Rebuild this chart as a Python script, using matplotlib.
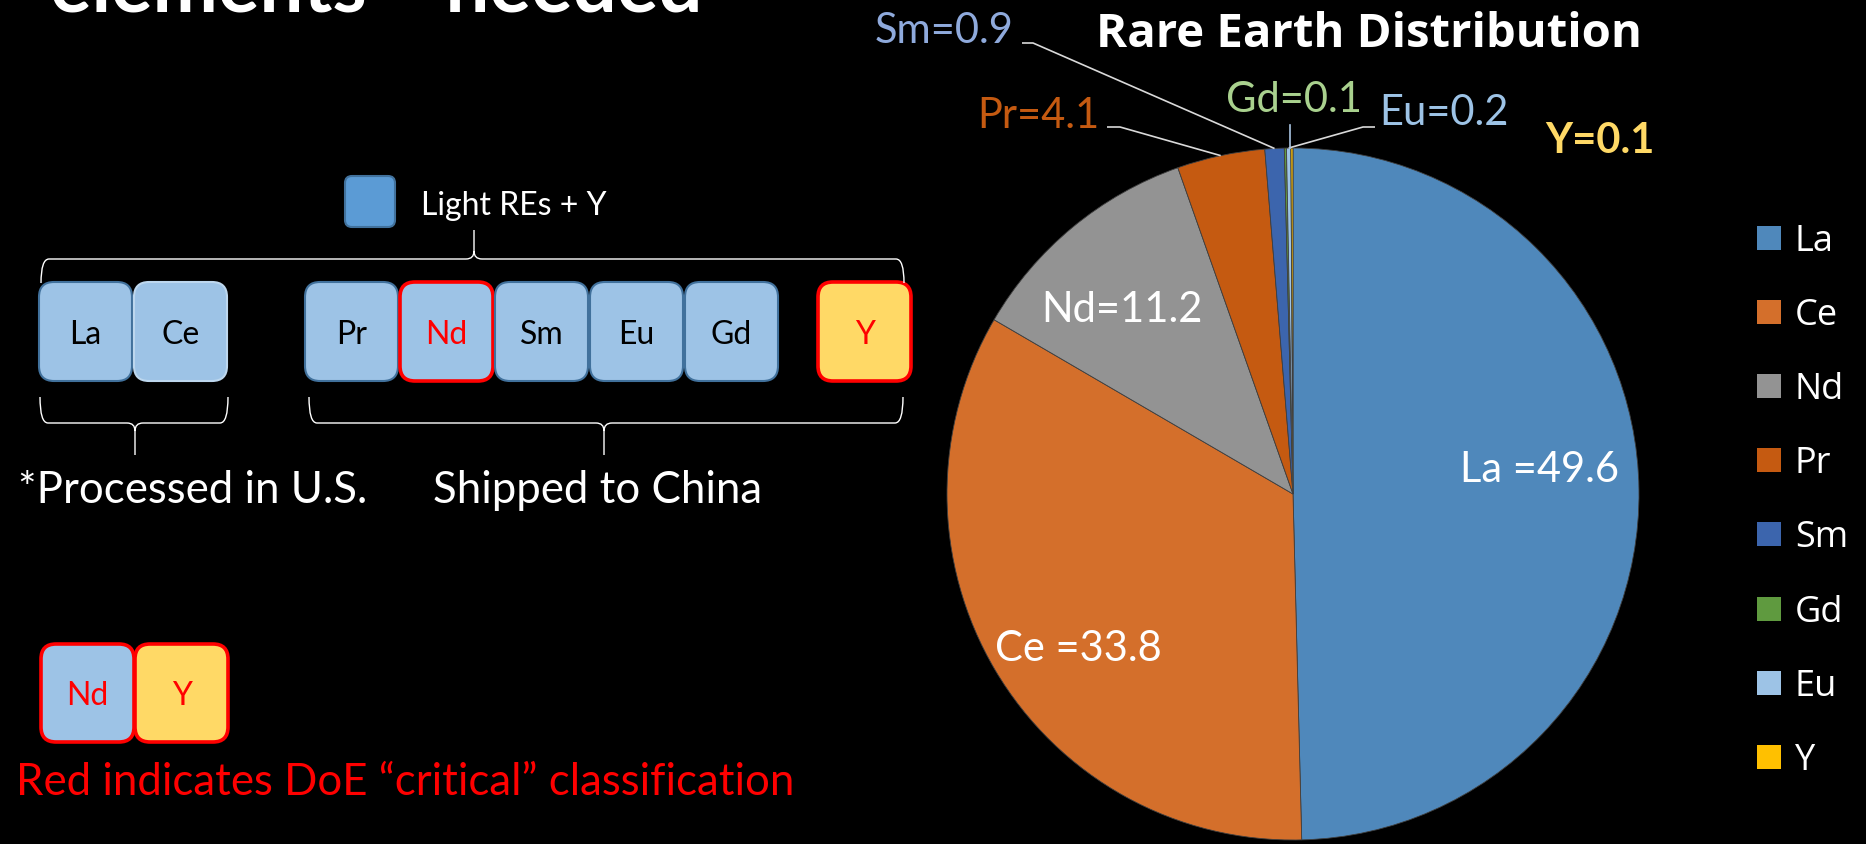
import matplotlib
matplotlib.use("Agg")
import matplotlib.pyplot as plt
from matplotlib.patches import FancyBboxPatch, Rectangle, PathPatch
from matplotlib.path import Path
import numpy as np

# ---------------------------------------------------------------- data
elements = ["La", "Ce", "Nd", "Pr", "Sm", "Gd", "Eu", "Y"]
shares = [49.6, 33.8, 11.2, 4.1, 0.9, 0.1, 0.2, 0.1]
label_prefix = ["La =", "Ce =", "Nd=", "Pr=", "Sm=", "Gd=", "Eu=", "Y="]
slice_colors = ["#4F88BB", "#D46F2B", "#939393", "#C55A11",
                "#3C65AD", "#5F9A3F", "#9DC3E6", "#FFC000"]
label_colors = ["white", "white", "white", "#C55A11",
                "#8FAADC", "#A9D18E", "#9DC3E6", "#FFD966"]

light_group = ["La", "Ce"]
china_group = ["Pr", "Nd", "Sm", "Eu", "Gd"]
heavy_group = ["Y"]
critical = ["Nd", "Y"]

W, H = 1866, 844
LABEL_FONT = "Lato"
LEGEND_FONT = "Open Sans"


def Y(y):
    """Convert a top-down pixel row into the axes' bottom-up coordinate."""
    return H - y


fig = plt.figure(figsize=(W / 100, H / 100), dpi=100, facecolor="black")
ax = fig.add_axes([0, 0, 1, 1])
ax.set_facecolor("black")

# ---------------------------------------------------------------- pie
cx, cy, R = 1293, 494, 346
wedges, _ = ax.pie(shares, colors=slice_colors, startangle=90, counterclock=False,
                   center=(cx, Y(cy)), radius=R, frame=True,
                   wedgeprops=dict(edgecolor="#3f3f3f", linewidth=0.6))
ax.set_xlim(0, W)
ax.set_ylim(0, H)
ax.set_aspect("equal")
ax.axis("off")


def edge_point(w):
    th = np.deg2rad((w.theta1 + w.theta2) / 2)
    return cx + R * np.cos(th), Y(cy) + R * np.sin(th)


# data labels: (x, baseline) in top-down pixels
label_pos = {"La": (1540, 482), "Ce": (1078, 661), "Nd": (1122, 322),
             "Pr": (1038, 128), "Sm": (944, 43), "Gd": (1294, 112),
             "Eu": (1444, 125), "Y": (1600, 153)}
for i, el in enumerate(elements):
    x, yb = label_pos[el]
    ax.text(x, Y(yb), f"{label_prefix[i]}{shares[i]}", color=label_colors[i],
            fontsize=30, family=LABEL_FONT, ha="center", va="baseline",
            fontweight="bold" if el == "Y" else "normal")

# leader lines
leader_start = {"Pr": [(1107, 127), (1120, 127)],
                "Sm": [(1022, 43), (1033, 43)],
                "Eu": [(1375, 127), (1363, 127)]}
for el, pts in leader_start.items():
    ex, ey = edge_point(wedges[elements.index(el)])
    xs = [p[0] for p in pts] + [ex]
    ys = [Y(p[1]) for p in pts] + [ey]
    ax.plot(xs, ys, color="#D9D9D9", lw=1.2, solid_capstyle="butt")
gx, gy = edge_point(wedges[elements.index("Gd")])
ax.plot([gx + 5, gx + 5], [Y(125), gy], color="#A9C4E2", lw=1.2)

ax.text(1096, Y(47), "Rare Earth Distribution", color="white", fontsize=34,
        fontweight="bold", family=LEGEND_FONT, ha="left", va="baseline")

# legend
for i, el in enumerate(elements):
    yc = 238 + i * 74.1
    ax.add_patch(Rectangle((1757, Y(yc + 12)), 24, 24, facecolor=slice_colors[i],
                           edgecolor="none"))
    ax.text(1795, Y(yc + 13), el, color="white", fontsize=26, family=LEGEND_FONT,
            ha="left", va="baseline")

# ---------------------------------------------------------------- slide title (cut at the top)
ax.text(50, Y(11), "elements\u201d \u201cneeded", color="white", fontsize=56,
        fontweight="bold", family=LABEL_FONT, ha="left", va="baseline")

# ---------------------------------------------------------------- element tiles
BOX_FILL = "#9DC3E6"
BOX_EDGE = "#41719C"
RED = "#FF0000"


def tile(x0, y0, w, h, text, fill=BOX_FILL, edge=BOX_EDGE, lw=1.5, tcolor="black"):
    ax.add_patch(FancyBboxPatch((x0, Y(y0 + h)), w, h,
                                boxstyle="round,pad=0,rounding_size=15",
                                facecolor=fill, edgecolor=edge, linewidth=lw))
    ax.text(x0 + w / 2, Y(y0 + 62), text, color=tcolor, fontsize=23,
            family=LABEL_FONT, ha="center", va="baseline")


tile_x = {"La": 39, "Ce": 134, "Pr": 305, "Nd": 400, "Sm": 495,
          "Eu": 590, "Gd": 685, "Y": 818}
for el in light_group + china_group + heavy_group:
    crit = el in critical
    fill = "#FFD966" if el in heavy_group else BOX_FILL
    edge = RED if crit else ("#BDD7EE" if el == "Ce" else BOX_EDGE)
    tile(tile_x[el], 282, 93, 99, el, fill=fill, edge=edge,
         lw=2.6 if crit else 1.5, tcolor=RED if crit else "black")

# key tiles for the critical elements
for j, el in enumerate(critical):
    fill = "#FFD966" if el in heavy_group else BOX_FILL
    ax.add_patch(FancyBboxPatch((41 + j * 94, Y(742)), 93, 98,
                                boxstyle="round,pad=0,rounding_size=15",
                                facecolor=fill, edgecolor=RED, linewidth=2.6))
    ax.text(41 + j * 94 + 46.5, Y(705), el, color=RED, fontsize=23,
            family=LABEL_FONT, ha="center", va="baseline")

# small colour key
ax.add_patch(FancyBboxPatch((345, Y(227)), 50, 51, boxstyle="round,pad=0,rounding_size=7",
                            facecolor="#5B9BD5", edgecolor=BOX_EDGE, linewidth=1.5))
ax.text(421, Y(215), "Light REs + Y", color="white", fontsize=23,
        family=LABEL_FONT, ha="left", va="baseline")


# ---------------------------------------------------------------- braces
def brace(x0, x1, xm, y_line, y_end, y_tip, r=8):
    s = 1 if y_tip > y_line else -1
    verts = [(x0, y_end), (x0, y_line), (x0 + r, y_line),
             (xm - r, y_line), (xm, y_line), (xm, y_line + s * r), (xm, y_tip),
             (xm, y_line + s * r), (xm, y_line), (xm + r, y_line),
             (x1 - r, y_line), (x1, y_line), (x1, y_end)]
    codes = [Path.MOVETO, Path.CURVE3, Path.CURVE3,
             Path.LINETO, Path.CURVE3, Path.CURVE3, Path.LINETO,
             Path.MOVETO, Path.CURVE3, Path.CURVE3,
             Path.LINETO, Path.CURVE3, Path.CURVE3]
    verts = [(vx, Y(vy)) for vx, vy in verts]
    ax.add_patch(PathPatch(Path(verts, codes), facecolor="none",
                           edgecolor="white", linewidth=1.0))


brace(41, 904, 474, 259, 283, 230)
brace(40, 228, 135, 423, 397, 455)
brace(309, 903, 604, 423, 397, 455)

ax.text(18, Y(503), "*Processed in U.S.", color="white", fontsize=31.5,
        family=LABEL_FONT, ha="left", va="baseline")
ax.text(433, Y(503), "Shipped to China", color="white", fontsize=31.5,
        family=LABEL_FONT, ha="left", va="baseline")
ax.text(16, Y(795), "Red indicates DoE \u201ccritical\u201d classification", color=RED,
        fontsize=31.5, family=LABEL_FONT, ha="left", va="baseline")

fig.savefig("out.png", dpi=100, facecolor="black")
